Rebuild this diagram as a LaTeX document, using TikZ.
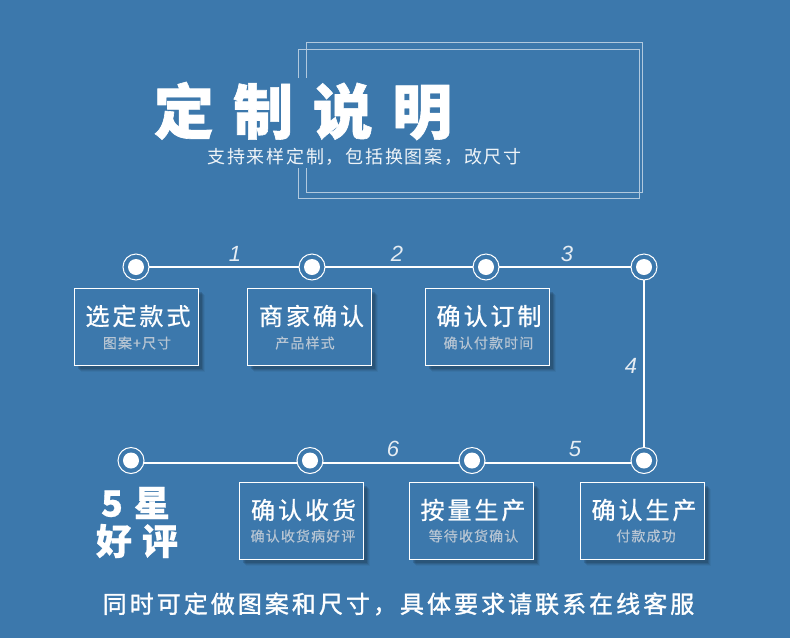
\documentclass[tikz,border=0pt]{standalone}
\usepackage{fontspec}
\usetikzlibrary{shadows}
\setmainfont{Liberation Sans}
\newfontfamily\cjk{Noto Sans CJK SC}
\definecolor{bgblue}{HTML}{3C78AC}
\definecolor{subgrey}{HTML}{B7C5D3}
\definecolor{numgrey}{HTML}{E6EDF3}
\tikzset{
  every node/.style={inner sep=0pt,outer sep=0pt},
  dot/.style={circle,draw=white,line width=1pt,fill=bgblue,minimum size=26pt,
    path picture={\fill[white] (path picture bounding box.center) circle (8pt);}},
  link/.style={draw=white,line width=2pt},
  frameline/.style={draw=white!60!bgblue,line width=1pt},
  stepbox/.style={rectangle,draw=white,line width=1pt,fill=bgblue,minimum width=124pt,minimum height=77pt,
    general shadow={shadow xshift=6.5pt,shadow yshift=-6.5pt,fill=black!70!bgblue,opacity=.06},
    general shadow={shadow xshift=5.5pt,shadow yshift=-5.5pt,fill=black!70!bgblue,opacity=.10},
    general shadow={shadow xshift=4.5pt,shadow yshift=-4.5pt,fill=black!70!bgblue,opacity=.14},
    general shadow={shadow xshift=3.5pt,shadow yshift=-3.5pt,fill=black!70!bgblue,opacity=.18}},
  head/.style={text=white,font=\cjk\fontsize{24}{24}\selectfont\addfontfeature{LetterSpace=12.5,FakeBold=0.8}},
  sub/.style={text=subgrey,font=\cjk\fontsize{14}{14}\selectfont\addfontfeature{LetterSpace=8,FakeBold=0.4}},
  num/.style={text=numgrey,font=\fontsize{22}{22}\selectfont\itshape},
}
\begin{document}
\begin{tikzpicture}[x=1pt,y=-1pt]
\useasboundingbox[fill=bgblue] (0,0) rectangle (790,638);
% title frames
\draw[frameline] (306,78) -- (306,42) -- (642.5,42) -- (642.5,192.5) -- (306,192.5) -- (306,168);
\draw[frameline] (298,78) -- (298,49) -- (639,49) -- (639,198) -- (298,198) -- (298,168);
\node[text=white,font=\cjk\bfseries\fontsize{60}{60}\selectfont\addfontfeature{FakeBold=1},anchor=center] (title) at (303,111) {定\hspace{19.5pt}制\hspace{19.5pt}说\hspace{19.5pt}明};
\node[text=white!92!bgblue,font=\cjk\fontsize{18}{18}\selectfont\addfontfeature{LetterSpace=9.7}] (subtitle) at (364.5,157) {支持来样定制，包括换图案，改尺寸};
% dots
\node[dot] (a1) at (136,267) {};
\node[dot] (a2) at (312,267) {};
\node[dot] (a3) at (486,267) {};
\node[dot] (a4) at (644,267) {};
\node[dot] (b1) at (131,460.5) {};
\node[dot] (b2) at (310,460.5) {};
\node[dot] (b3) at (472,460.5) {};
\node[dot] (b4) at (644,460.5) {};
% connectors
\draw[link] (a1) -- (a2);
\draw[link] (a2) -- (a3);
\draw[link] (a3) -- (a4);
\draw[link] (a4) -- (b4);
\draw[link] ([yshift=-2.5pt]b4.west) -- ([yshift=-2.5pt]b3.east);
\draw[link] ([yshift=-2.5pt]b3.west) -- ([yshift=-2.5pt]b2.east);
\draw[link] ([yshift=-2.5pt]b2.west) -- ([yshift=-2.5pt]b1.east);
% numbers
\node[num] (n1) at (235,254) {1};
\node[num] (n2) at (397,254) {2};
\node[num] (n3) at (567,254) {3};
\node[num] (n4) at (631,366) {4};
\node[num] (n5) at (575,449) {5};
\node[num] (n6) at (393,449) {6};
% boxes
\node[stepbox] (s1) at (136.5,326.5) {};
\node[stepbox] (s2) at (309.5,326.5) {};
\node[stepbox] (s3) at (487.5,326.5) {};
\node[stepbox] (s4) at (642.5,520.5) {};
\node[stepbox] (s5) at (471.5,520.5) {};
\node[stepbox] (s6) at (301.5,520.5) {};
\node[head] (h1) at (138,316) {选定款式};
\node[sub] (t1) at (137,343) {图案+尺寸};
\node[head] (h2) at (311.5,316) {商家确认};
\node[sub] (t2) at (305,343) {产品样式};
\node[head] (h3) at (489,316) {确认订制};
\node[sub] (t3) at (488.5,343) {确认付款时间};
\node[head] (h4) at (644,510) {确认生产};
\node[sub] (t4) at (646,536) {付款成功};
\node[head] (h5) at (473,510) {按量生产};
\node[sub] (t5) at (473.5,536) {等待收货确认};
\node[head] (h6) at (303.5,510) {确认收货};
\node[sub] (t6) at (303,536) {确认收货病好评};
% five stars
\node[text=white,font=\cjk\bfseries\fontsize{36}{36}\selectfont\addfontfeature{FakeBold=0.6}] (star) at (135.5,503) {5\hspace{11pt}星};
\node[text=white,font=\cjk\bfseries\fontsize{36}{36}\selectfont\addfontfeature{FakeBold=0.6}] (good) at (137,541) {好\hspace{10pt}评};
% footer
\node[text=white,font=\cjk\fontsize{24}{24}\selectfont\addfontfeature{LetterSpace=12.6,FakeBold=1.3}] (foot) at (398.5,604) {同时可定做图案和尺寸，具体要求请联系在线客服};
\end{tikzpicture}
\end{document}
